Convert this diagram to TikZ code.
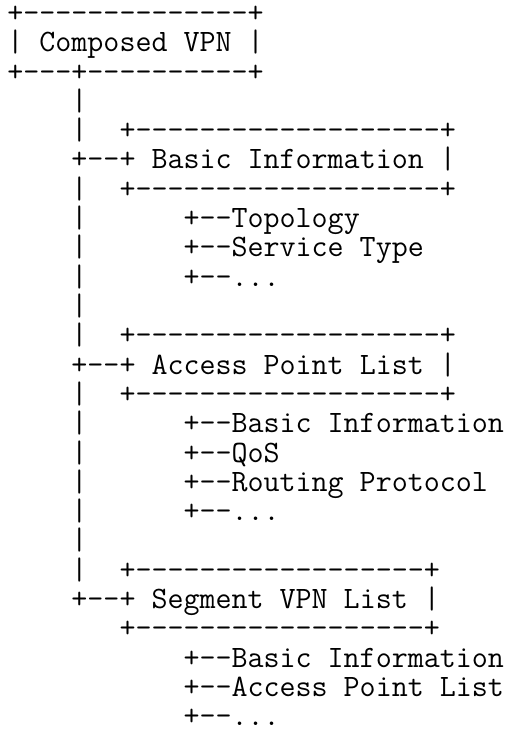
\documentclass[tikz,border=0pt]{standalone}
\tikzset{ascii/.style={anchor=base west, inner sep=0pt,
    font=\ttfamily\fontsize{15.55pt}{14.7pt}\selectfont}}
\newcommand\moreitems{...}
\begin{document}
\begin{tikzpicture}[x=0.5pt, y=-0.5pt]
  \useasboundingbox (0,0) rectangle (505,731);
  % one node for each text line of the tree
  \foreach \txt [count=\i] in {
    {+--------------+},
    {|~Composed~VPN~|},
    {+---+----------+},
    {~~~~|},
    {~~~~|~~+-------------------+},
    {~~~~+--+~Basic~Information~|},
    {~~~~|~~+-------------------+},
    {~~~~|~~~~~~+--Topology},
    {~~~~|~~~~~~+--Service~Type},
    {~~~~|~~~~~~+--\moreitems},
    {~~~~|},
    {~~~~|~~+-------------------+},
    {~~~~+--+~Access~Point~List~|},
    {~~~~|~~+-------------------+},
    {~~~~|~~~~~~+--Basic~Information},
    {~~~~|~~~~~~+--QoS},
    {~~~~|~~~~~~+--Routing~Protocol},
    {~~~~|~~~~~~+--\moreitems},
    {~~~~|},
    {~~~~|~~+------------------+},
    {~~~~+--+~Segment~VPN~List~|},
    {~~~~~~~+------------------+},
    {~~~~~~~~~~~+--Basic~Information},
    {~~~~~~~~~~~+--Access~Point~List},
    {~~~~~~~~~~~+--\moreitems}}
    \node[ascii] (line\i) at (7, {22.5+(\i-1)*29.3}) {\txt};
\end{tikzpicture}
\end{document}
